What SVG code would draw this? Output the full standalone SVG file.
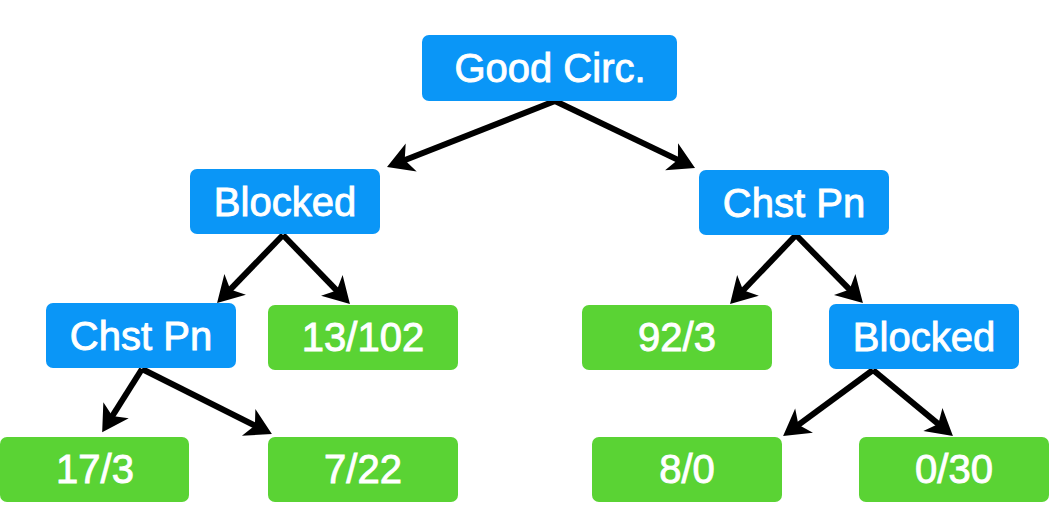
<svg xmlns="http://www.w3.org/2000/svg" width="1056" height="520" viewBox="0 0 1056 520">
<style>
.blue{fill:#0a96f7}
.green{fill:#5ad334}
.lbl{font-family:"Liberation Sans",Arial,sans-serif;font-size:40px;fill:#ffffff;stroke:#ffffff;stroke-width:0.9px;text-anchor:middle}
.conn line{stroke:#000;stroke-width:6;marker-end:url(#ah)}
</style>
<defs>
<marker id="ah" markerUnits="userSpaceOnUse" markerWidth="32" markerHeight="32" viewBox="0 0 32 32" refX="11" refY="16" orient="auto">
<path d="M1,1 L27,16 L1,31 L8,16 Z" fill="#000"/>
</marker>
</defs>
<rect width="1056" height="520" fill="#fff"/>
<g class="conn" id="connectors">
<line x1="555" y1="101" x2="401.9" y2="161.2"/>
<line x1="555" y1="101" x2="680.6" y2="161.1"/>
<line x1="283" y1="235" x2="228.2" y2="291.6"/>
<line x1="283" y1="235" x2="338.8" y2="292.6"/>
<line x1="142" y1="369" x2="110.7" y2="418.6"/>
<line x1="142" y1="369" x2="257.6" y2="426.9"/>
<line x1="796" y1="235" x2="741.1" y2="292.5"/>
<line x1="796" y1="235" x2="851.7" y2="291.7"/>
<line x1="873" y1="370" x2="796" y2="426.6"/>
<line x1="873" y1="370" x2="940.6" y2="425.9"/>
</g>
<g id="n-good-circ"><rect class="blue" x="422" y="35" width="255" height="66" rx="7"/><text class="lbl" x="550" y="82">Good Circ.</text></g>
<g id="n-blocked-l"><rect class="blue" x="190" y="169" width="190" height="65" rx="7"/><text class="lbl" x="285" y="216">Blocked</text></g>
<g id="n-chst-r"><rect class="blue" x="699" y="170" width="190" height="65" rx="7"/><text class="lbl" x="794" y="217">Chst Pn</text></g>
<g id="n-chst-l"><rect class="blue" x="46" y="303" width="190" height="65" rx="7"/><text class="lbl" x="141" y="350">Chst Pn</text></g>
<g id="n-13-102"><rect class="green" x="268" y="305" width="190" height="65" rx="7"/><text class="lbl" x="363" y="351">13/102</text></g>
<g id="n-92-3"><rect class="green" x="582" y="305" width="190" height="65" rx="7"/><text class="lbl" x="677" y="351">92/3</text></g>
<g id="n-blocked-r"><rect class="blue" x="829" y="304" width="190" height="65" rx="7"/><text class="lbl" x="924" y="351">Blocked</text></g>
<g id="n-17-3"><rect class="green" x="0" y="437" width="189" height="65" rx="7"/><text class="lbl" x="95" y="483">17/3</text></g>
<g id="n-7-22"><rect class="green" x="268" y="437" width="190" height="65" rx="7"/><text class="lbl" x="363" y="483">7/22</text></g>
<g id="n-8-0"><rect class="green" x="592" y="437" width="190" height="65" rx="7"/><text class="lbl" x="687" y="483">8/0</text></g>
<g id="n-0-30"><rect class="green" x="859" y="437" width="190" height="65" rx="7"/><text class="lbl" x="954" y="483">0/30</text></g>
</svg>
